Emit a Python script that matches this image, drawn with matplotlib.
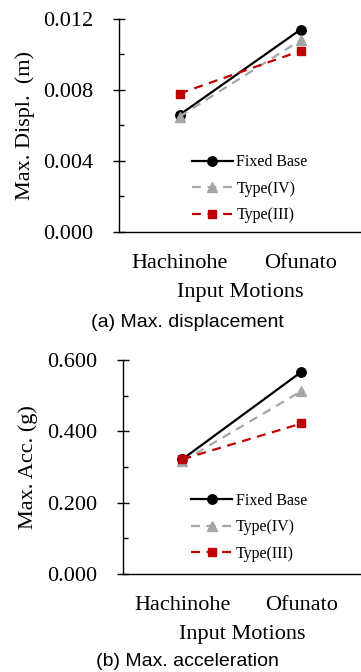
import matplotlib
matplotlib.use("Agg")
import matplotlib.pyplot as plt
from matplotlib.ticker import MultipleLocator, FormatStrFormatter

categories = ["Hachinohe", "Ofunato"]
series_names = ["Fixed Base", "Type(IV)", "Type(III)"]
disp_fixed = [0.0066, 0.0114]
disp_type4 = [0.0065, 0.0108]
disp_type3 = [0.0078, 0.0102]
acc_fixed = [0.322, 0.567]
acc_type4 = [0.316, 0.513]
acc_type3 = [0.322, 0.422]

serif = ["Liberation Serif", "DejaVu Serif"]
sans = ["Liberation Sans", "DejaVu Sans"]

fig = plt.figure(figsize=(3.61, 6.72), dpi=100)

styles = [
    dict(color="black", linestyle="-", marker="o", markersize=6.8, linewidth=1.6),
    dict(color="#A6A6A6", linestyle=(0, (4, 3)), marker="^", markersize=6.8, linewidth=1.6),
    dict(color="#C00000", linestyle=(0, (4, 3)), marker="s", markersize=6.2, linewidth=1.6),
]

def make_panel(rect, data, ylabel, ymax, major, minor, fmt, caption, cap_y, leg_anchor):
    ax = fig.add_axes(rect)
    x = list(range(len(categories)))
    for name, vals, st in zip(series_names, data, styles):
        ax.plot(x, vals, label=name, **st)
    ax.set_xlim(-0.5, 1.5)
    ax.set_ylim(0, ymax)
    ax.set_xticks(x)
    ax.set_xticklabels(categories, fontfamily=serif, fontsize=16)
    ax.tick_params(axis="x", length=0, pad=16)
    ax.yaxis.set_major_locator(MultipleLocator(major))
    ax.yaxis.set_minor_locator(MultipleLocator(minor))
    ax.yaxis.set_major_formatter(FormatStrFormatter(fmt))
    ax.tick_params(axis="y", which="major", direction="inout", length=8.5, width=1, pad=14.5)
    ax.tick_params(axis="y", which="minor", direction="in", length=3.6, width=1)
    for lab in ax.get_yticklabels():
        lab.set_fontfamily(serif)
        lab.set_fontsize(16)
    for s in ["top", "right"]:
        ax.spines[s].set_visible(False)
    ax.spines["left"].set_linewidth(1)
    ax.spines["bottom"].set_linewidth(1)
    ax.set_ylabel(ylabel, fontfamily=serif, fontsize=16, labelpad=6)
    ax.set_xlabel("Input Motions", fontfamily=serif, fontsize=16, labelpad=7)
    ax.legend(loc="upper left", bbox_to_anchor=leg_anchor, frameon=False,
              prop={"family": serif, "size": 11.5}, handlelength=2.6,
              handletextpad=0.2, labelspacing=0.66, borderaxespad=0, borderpad=0)
    fig.text(0.52, cap_y, caption, fontfamily=sans, fontsize=14, ha="center", va="center")
    return ax

make_panel([0.33, 0.6548, 0.67, 0.317],
           [disp_fixed, disp_type4, disp_type3],
           "Max. Displ.  (m)", 0.012, 0.004, 0.002, "%.3f",
           "(a) Max. displacement", 1 - 322 / 672, (0.30, 0.365))
make_panel([0.3407, 0.1458, 0.6593, 0.3185],
           [acc_fixed, acc_type4, acc_type3],
           "Max. Acc. (g)", 0.6, 0.2, 0.1, "%.3f",
           "(b) Max. acceleration", 1 - 662 / 672, (0.285, 0.38))

fig.savefig("out.png", dpi=100)
